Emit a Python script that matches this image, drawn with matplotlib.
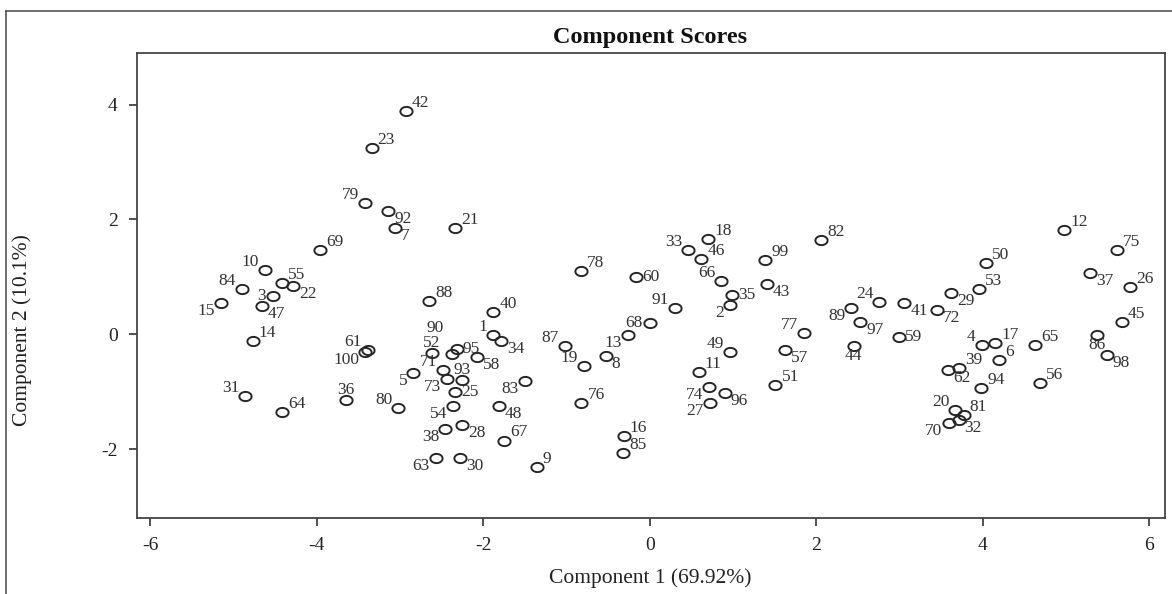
import numpy as np
import matplotlib
matplotlib.use("Agg")
import matplotlib.pyplot as plt
from matplotlib.path import Path
from matplotlib.lines import Line2D

# ---- data ----
ids = list(range(1, 101))
pc1 = [-1.88, 0.97, -4.53, 3.99, -2.84, 4.20, -3.06, -0.53, -1.36, -4.62,
       0.59, 4.98, -0.26, -4.77, -5.15, -0.31, 4.15, 0.70, -0.79, 3.67,
       -2.34, -4.28, -3.34, 2.76, -2.34, 5.77, 0.72, -2.25, 3.62, -2.28,
       -4.86, 3.71, 0.46, -1.79, 0.99, -3.65, 5.29, -2.46, 3.72, -1.88,
       3.06, -2.93, 1.41, 2.45, 5.67, 0.62, -4.66, -1.81, 0.96, 4.04,
       1.51, -2.62, 3.96, -2.36, -4.42, 4.69, 1.63, -2.08, 2.99, -0.16,
       -3.39, 3.58, -2.57, -4.42, 4.63, 0.86, -1.75, 0.00, -3.96, 3.59,
       -2.48, 3.45, -2.44, 0.71, 5.61, -0.82, 1.85, -0.83, -3.42, -3.02,
       3.77, 2.06, -1.50, -4.90, -0.32, 5.37, -1.02, -2.65, 2.42, -2.38,
       0.30, -3.14, -2.26, 3.98, -2.32, 0.90, 2.53, 5.49, 1.39, -3.42]
pc2 = [-0.01, 0.51, 0.67, -0.19, -0.68, -0.44, 1.86, -0.38, -2.31, 1.12,
       -0.65, 1.82, -0.01, -0.11, 0.55, -1.77, -0.15, 1.66, -0.56, -1.32,
       1.85, 0.84, 3.24, 0.57, -1.00, 0.83, -1.20, -1.58, 0.72, -2.16,
       -1.07, -1.49, 1.46, -0.11, 0.68, -1.14, 1.07, -1.65, -0.58, 0.39,
       0.54, 3.89, 0.88, -0.20, 0.22, 1.31, 0.49, -1.25, -0.31, 1.24,
       -0.88, -0.33, 0.79, -1.25, 0.90, -0.85, -0.27, -0.39, -0.04, 1.00,
       -0.27, -0.62, -2.16, -1.36, -0.19, 0.93, -1.85, 0.19, 1.47, -1.55,
       -0.62, 0.42, -0.78, -0.91, 1.46, -1.20, 0.03, 1.11, 2.28, -1.29,
       -1.41, 1.64, -0.81, 0.79, -2.07, -0.01, -0.20, 0.58, 0.46, -0.34,
       0.45, 2.15, -0.80, -0.94, -0.26, -1.03, 0.22, -0.36, 1.29, -0.31]
x_ticks = [-6, -4, -2, 0, 2, 4, 6]
y_ticks = [-2, 0, 2, 4]
title = "Component Scores"
x_label = "Component 1 (69.92%)"
y_label = "Component 2 (10.1%)"

# ---- label placement (layout only) ----
place = {
    1: 'ul', 2: 'll', 3: 'l', 4: 'ul', 5: 'll', 6: 'ur', 7: 'lr', 8: 'lr', 9: 'ur', 10: 'ul',
    11: 'ur', 12: 'ur', 13: 'll', 14: 'ur', 15: 'll', 16: 'ur', 17: 'ur', 18: 'ur', 19: 'ul', 20: 'ul',
    21: 'ur', 22: 'lr', 23: 'ur', 24: 'ul', 25: 'r', 26: 'ur', 27: 'll', 28: 'lr', 29: 'lr', 30: 'lr',
    31: 'ul', 32: 'lr', 33: 'ul', 34: 'lr', 35: 'r', 36: 'a', 37: 'lr', 38: 'll', 39: 'ur', 40: 'ur',
    41: 'lr', 42: 'ur', 43: 'lr', 44: 'b', 45: 'ur', 46: 'ur', 47: 'lr', 48: 'lr', 49: 'ul', 50: 'ur',
    51: 'ur', 52: 'a', 53: 'ur', 54: 'll', 55: 'ur', 56: 'ur', 57: 'lr', 58: 'lr', 59: 'r', 60: 'r',
    61: 'ul', 62: 'lr', 63: 'll', 64: 'ur', 65: 'ur', 66: 'ul', 67: 'ur', 68: 'l', 69: 'ur', 70: 'll',
    71: 'ul', 72: 'lr', 73: 'll', 74: 'll', 75: 'ur', 76: 'ur', 77: 'ul', 78: 'ur', 79: 'ul', 80: 'ul',
    81: 'ur', 82: 'ur', 83: 'll', 84: 'ul', 85: 'ur', 86: 'b', 87: 'ul', 88: 'ur', 89: 'll', 90: 'x',
    91: 'ul', 92: 'lr', 93: 'a', 94: 'ur', 95: 'r', 96: 'lr', 97: 'lr', 98: 'lr', 99: 'ur', 100: 'll',
}
# (dx px, dy px downward, ha)
offs = {
    'ur': (6, -8, 'left'), 'ul': (-6, -8, 'right'),
    'lr': (6, 8, 'left'), 'll': (-6, 8, 'right'),
    'r': (6, 0, 'left'), 'l': (-7, 0, 'right'),
    'a': (0, -10, 'center'), 'b': (0, 10, 'center'),
    'x': (-17, -26, 'center'),
}

W, H = 1172, 594
fig = plt.figure(figsize=(W / 100, H / 100), dpi=100)
L, R, T, B = 137, 1165, 53, 518
ax = fig.add_axes([L / W, (H - B) / H, (R - L) / W, (B - T) / H])

theta = np.linspace(0, 2 * np.pi, 60)
ell = Path(np.column_stack([1.33 * np.cos(theta), np.sin(theta)]), closed=False)

ink = '#262626'
ax.plot(pc1, pc2, linestyle='none', marker=ell, markersize=8.8,
        markerfacecolor='none', markeredgecolor=ink, markeredgewidth=1.4)

for i, x, y in zip(ids, pc1, pc2):
    dx, dy, ha = offs[place[i]]
    ax.annotate(str(i), (x, y), xytext=(dx * 0.72, -dy * 0.72),
                textcoords='offset points', ha=ha, va='center',
                fontsize=12.5, family='Liberation Serif', color='#333333')

ax.set_xlim(-6.16, 6.19)
ax.set_ylim(-3.20, 4.90)
ax.set_xticks(x_ticks)
ax.set_yticks(y_ticks)
ax.set_xticklabels([str(t) for t in x_ticks], family='Liberation Serif', fontsize=14, color='#222222')
ax.set_yticklabels([str(t) for t in y_ticks], family='Liberation Serif', fontsize=14, color='#222222')
ax.tick_params(direction='out', length=6, width=1.2, color='#333333', pad=8)
for s in ax.spines.values():
    s.set_linewidth(1.3)
    s.set_color('#444444')

fig.text(650 / W, 1 - 37 / H, title, ha='center', va='center',
         family='Liberation Serif', fontweight='bold', fontsize=17.5, color='#111111')
fig.text(650 / W, 1 - 578 / H, x_label, ha='center', va='center',
         family='Liberation Serif', fontsize=15.5, color='#222222')
fig.text(22 / W, 1 - 330 / H, y_label, ha='center', va='center', rotation=90,
         family='Liberation Serif', fontsize=15.5, color='#222222')

# outer frame (top and left edges)
fig.add_artist(Line2D([6 / W, 1.0], [1 - 11 / H, 1 - 11 / H], transform=fig.transFigure,
                      color='#555555', linewidth=1.2))
fig.add_artist(Line2D([6 / W, 6 / W], [0.0, 1 - 11 / H], transform=fig.transFigure,
                      color='#555555', linewidth=1.2))

fig.savefig('out.png', dpi=100)
